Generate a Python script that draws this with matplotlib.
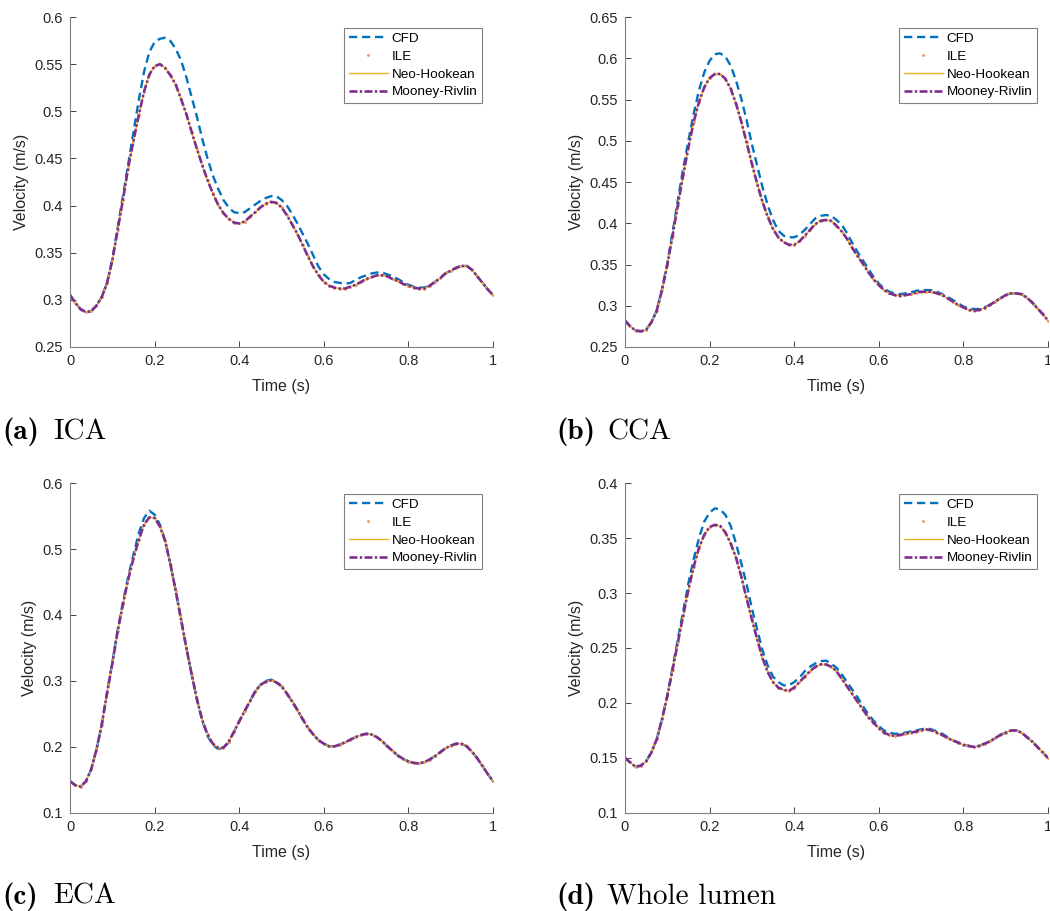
import numpy as np
import matplotlib
matplotlib.use('Agg')
import matplotlib.pyplot as plt
from matplotlib.ticker import FuncFormatter

plt.rcParams['font.family'] = ['Liberation Sans', 'DejaVu Sans']

# time samples over one cardiac cycle (s)
t = np.linspace(0, 1, 81)

# mean velocity (m/s), 8 samples per 0.1 s
# "fsi" is shared by ILE / Neo-Hookean / Mooney-Rivlin (they overlap)
ica_cfd = [0.305, 0.297, 0.290, 0.287, 0.288, 0.294, 0.303, 0.318,
           0.343, 0.376, 0.410, 0.444, 0.478, 0.512, 0.542, 0.563,
           0.5735, 0.577, 0.578, 0.5745, 0.566, 0.554, 0.536, 0.515,
           0.494, 0.471, 0.450, 0.432, 0.418, 0.406, 0.398, 0.393,
           0.392, 0.393, 0.397, 0.401, 0.405, 0.408, 0.410, 0.410,
           0.406, 0.400, 0.391, 0.381, 0.370, 0.359, 0.347, 0.335,
           0.327, 0.322, 0.319, 0.318, 0.317, 0.318, 0.321, 0.324,
           0.326, 0.328, 0.329, 0.329, 0.327, 0.325, 0.322, 0.319,
           0.316, 0.314, 0.313, 0.313, 0.315, 0.319, 0.323, 0.328,
           0.331, 0.334, 0.336, 0.336, 0.332, 0.325, 0.318, 0.311,
           0.305]
ica_fsi = [0.305, 0.297, 0.290, 0.287, 0.288, 0.294, 0.303, 0.318,
           0.342, 0.374, 0.406, 0.440, 0.469, 0.496, 0.521, 0.539,
           0.548, 0.550, 0.546, 0.538, 0.528, 0.513, 0.497, 0.478,
           0.460, 0.443, 0.427, 0.413, 0.401, 0.392, 0.386, 0.382,
           0.381, 0.383, 0.388, 0.393, 0.398, 0.402, 0.404, 0.403,
           0.398, 0.390, 0.380, 0.370, 0.358, 0.346, 0.335, 0.326,
           0.319, 0.315, 0.313, 0.312, 0.312, 0.314, 0.316, 0.319,
           0.322, 0.324, 0.326, 0.326, 0.325, 0.322, 0.320, 0.317,
           0.315, 0.313, 0.312, 0.312, 0.315, 0.319, 0.323, 0.328,
           0.331, 0.334, 0.336, 0.336, 0.332, 0.325, 0.318, 0.311,
           0.305]

cca_cfd = [0.282, 0.275, 0.270, 0.269, 0.271, 0.280, 0.294, 0.320,
           0.351, 0.389, 0.428, 0.466, 0.500, 0.533, 0.561, 0.583,
           0.597, 0.605, 0.606, 0.602, 0.591, 0.573, 0.551, 0.525,
           0.496, 0.470, 0.444, 0.422, 0.404, 0.391, 0.385, 0.383,
           0.383, 0.386, 0.392, 0.399, 0.406, 0.409, 0.410, 0.409,
           0.404, 0.398, 0.388, 0.376, 0.365, 0.355, 0.345, 0.335,
           0.327, 0.321, 0.317, 0.315, 0.314, 0.315, 0.316, 0.318,
           0.319, 0.319, 0.319, 0.317, 0.314, 0.311, 0.307, 0.303,
           0.299, 0.297, 0.296, 0.296, 0.298, 0.301, 0.305, 0.309,
           0.313, 0.315, 0.315, 0.314, 0.310, 0.304, 0.297, 0.290,
           0.282]
cca_fsi = [0.282, 0.275, 0.270, 0.269, 0.271, 0.280, 0.294, 0.319,
           0.349, 0.385, 0.422, 0.458, 0.492, 0.523, 0.547, 0.565,
           0.576, 0.581, 0.581, 0.575, 0.563, 0.545, 0.523, 0.498,
           0.472, 0.448, 0.426, 0.408, 0.393, 0.383, 0.377, 0.374,
           0.374, 0.378, 0.385, 0.392, 0.399, 0.403, 0.404, 0.403,
           0.397, 0.390, 0.381, 0.370, 0.360, 0.351, 0.341, 0.332,
           0.325, 0.319, 0.315, 0.313, 0.312, 0.313, 0.314, 0.316,
           0.317, 0.317, 0.317, 0.315, 0.313, 0.309, 0.305, 0.301,
           0.298, 0.295, 0.294, 0.295, 0.297, 0.301, 0.305, 0.309,
           0.313, 0.315, 0.315, 0.314, 0.310, 0.304, 0.297, 0.290,
           0.282]

eca_cfd = [0.148, 0.142, 0.140, 0.148, 0.166, 0.196, 0.234, 0.282,
           0.328, 0.377, 0.419, 0.458, 0.492, 0.524, 0.547, 0.558,
           0.552, 0.537, 0.512, 0.476, 0.436, 0.393, 0.350, 0.310,
           0.272, 0.240, 0.217, 0.203, 0.197, 0.198, 0.207, 0.223,
           0.239, 0.254, 0.269, 0.284, 0.294, 0.300, 0.302, 0.299,
           0.292, 0.281, 0.269, 0.256, 0.242, 0.229, 0.219, 0.210,
           0.205, 0.201, 0.201, 0.2035, 0.207, 0.211, 0.215, 0.218,
           0.220, 0.219, 0.215, 0.209, 0.201, 0.194, 0.187, 0.182,
           0.178, 0.176, 0.175, 0.177, 0.181, 0.186, 0.192, 0.198,
           0.202, 0.205, 0.205, 0.201, 0.193, 0.183, 0.171, 0.159,
           0.148]
eca_fsi = [0.148, 0.142, 0.140, 0.148, 0.166, 0.196, 0.234, 0.282,
           0.327, 0.375, 0.416, 0.454, 0.486, 0.514, 0.537, 0.548,
           0.547, 0.534, 0.512, 0.476, 0.436, 0.393, 0.350, 0.310,
           0.272, 0.241, 0.219, 0.205, 0.199, 0.199, 0.208, 0.223,
           0.239, 0.254, 0.269, 0.284, 0.294, 0.299, 0.301, 0.298,
           0.292, 0.281, 0.269, 0.256, 0.242, 0.229, 0.219, 0.210,
           0.205, 0.201, 0.201, 0.2035, 0.207, 0.211, 0.215, 0.218,
           0.220, 0.219, 0.215, 0.209, 0.201, 0.194, 0.187, 0.182,
           0.178, 0.176, 0.175, 0.177, 0.181, 0.186, 0.192, 0.198,
           0.202, 0.205, 0.205, 0.201, 0.193, 0.183, 0.171, 0.159,
           0.148]

lumen_cfd = [0.150, 0.146, 0.142, 0.143, 0.147, 0.155, 0.167, 0.185,
             0.207, 0.232, 0.258, 0.283, 0.309, 0.331, 0.350, 0.365,
             0.373, 0.377, 0.376, 0.371, 0.361, 0.345, 0.327, 0.308,
             0.286, 0.267, 0.248, 0.234, 0.224, 0.219, 0.216, 0.216,
             0.219, 0.223, 0.229, 0.233, 0.236, 0.238, 0.2385, 0.236,
             0.232, 0.226, 0.219, 0.212, 0.205, 0.197, 0.190, 0.184,
             0.179, 0.175, 0.173, 0.172, 0.172, 0.173, 0.174, 0.175,
             0.176, 0.177, 0.176, 0.174, 0.172, 0.169, 0.166, 0.164,
             0.162, 0.161, 0.160, 0.161, 0.163, 0.165, 0.168, 0.171,
             0.173, 0.175, 0.175, 0.173, 0.169, 0.165, 0.160, 0.155,
             0.150]
lumen_fsi = [0.150, 0.146, 0.142, 0.143, 0.147, 0.155, 0.167, 0.185,
             0.206, 0.230, 0.255, 0.279, 0.303, 0.324, 0.341, 0.353,
             0.360, 0.362, 0.361, 0.355, 0.345, 0.332, 0.315, 0.295,
             0.276, 0.258, 0.241, 0.228, 0.219, 0.214, 0.212, 0.211,
             0.214, 0.219, 0.224, 0.229, 0.233, 0.235, 0.235, 0.233,
             0.229, 0.222, 0.215, 0.208, 0.201, 0.194, 0.187, 0.182,
             0.177, 0.173, 0.171, 0.170, 0.171, 0.172, 0.173, 0.174,
             0.175, 0.176, 0.175, 0.173, 0.171, 0.168, 0.166, 0.164,
             0.162, 0.161, 0.160, 0.161, 0.163, 0.165, 0.168, 0.171,
             0.173, 0.175, 0.175, 0.173, 0.169, 0.165, 0.160, 0.155,
             0.150]

captions = ['(a)', '(b)', '(c)', '(d)']
names = ['ICA', 'CCA', 'ECA', 'Whole lumen']
ylims = [(0.25, 0.6), (0.25, 0.65), (0.1, 0.6), (0.1, 0.4)]
ysteps = [0.05, 0.05, 0.1, 0.05]
cfd_all = [ica_cfd, cca_cfd, eca_cfd, lumen_cfd]
fsi_all = [ica_fsi, cca_fsi, eca_fsi, lumen_fsi]

# matlab default colours
c_cfd = '#0072BD'
c_ile = '#E8906A'
c_neo = '#EDB120'
c_mr = '#7E2F8E'
txt_col = '#262626'

fig = plt.figure(figsize=(10.5, 9.11), dpi=100)

# axes boxes in figure fraction [left, bottom, width, height]
boxes = [[0.0667, 0.6191, 0.4029, 0.3622],
         [0.5952, 0.6191, 0.4029, 0.3622],
         [0.0667, 0.1076, 0.4029, 0.3622],
         [0.5952, 0.1076, 0.4029, 0.3622]]
cap_pos = [(0.002, 0.518), (0.530, 0.518), (0.002, 0.0077), (0.530, 0.0077)]

fmt = FuncFormatter(lambda v, p: '%g' % round(v, 3))

for i in range(4):
    ax = fig.add_axes(boxes[i])
    ax.plot(t, cfd_all[i], color=c_cfd, lw=1.7, dashes=(3.5, 2.0), label='CFD')
    ax.plot(t, fsi_all[i], linestyle='None', marker='.', ms=2.0, color=c_ile, label='ILE')
    ax.plot(t, fsi_all[i], color=c_neo, lw=1.0, label='Neo-Hookean')
    ax.plot(t, fsi_all[i], color=c_mr, lw=1.9, dashes=(3.0, 0.9, 0.9, 0.9), label='Mooney-Rivlin')

    ax.set_xlim(0, 1)
    ax.set_ylim(*ylims[i])
    ax.set_xticks(np.arange(0, 1.01, 0.2))
    ax.set_yticks(np.arange(ylims[i][0], ylims[i][1] + 1e-6, ysteps[i]))
    ax.xaxis.set_major_formatter(fmt)
    ax.yaxis.set_major_formatter(fmt)
    ax.tick_params(direction='in', length=4, width=0.6, colors=txt_col, labelsize=10.5, pad=5)
    for s in ['top', 'right']:
        ax.spines[s].set_visible(False)
    for s in ['left', 'bottom']:
        ax.spines[s].set_color('#808080')
        ax.spines[s].set_linewidth(0.8)
    ax.set_xlabel('Time (s)', fontsize=11.5, color=txt_col, labelpad=8)
    ax.set_ylabel('Velocity (m/s)', fontsize=11.5, color=txt_col, labelpad=4)

    leg = ax.legend(loc='upper right', fontsize=9.7, handlelength=2.9, handletextpad=0.3,
                    labelspacing=0.4, borderpad=0.35, borderaxespad=0.8, fancybox=False,
                    framealpha=1, edgecolor='#808080')
    leg.get_frame().set_linewidth(0.8)

    # sub-figure captions, computer modern like the paper
    fig.text(cap_pos[i][0], cap_pos[i][1], captions[i], family='cmb10',
             fontsize=21, ha='left', va='baseline', color='black')
    fig.text(cap_pos[i][0] + 0.0485, cap_pos[i][1], names[i], family='cmr10',
             fontsize=21, ha='left', va='baseline', color='black')

plt.savefig('out.png', dpi=100)
